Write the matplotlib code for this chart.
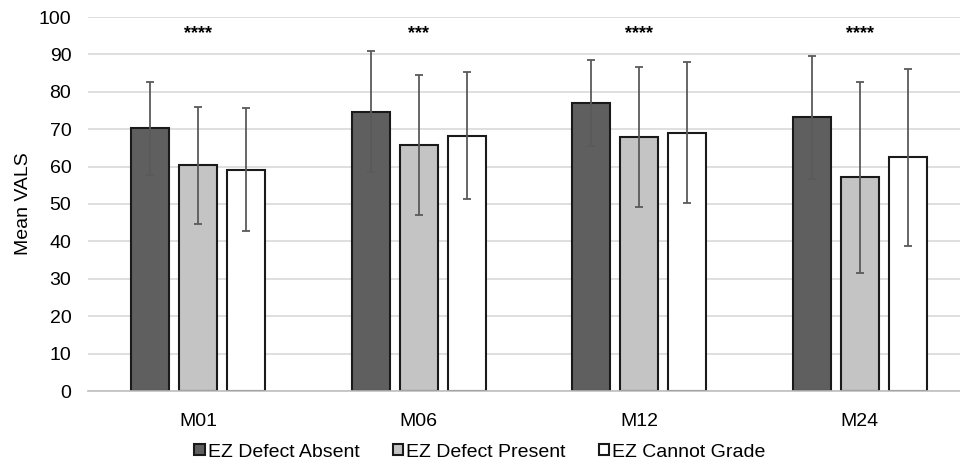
import matplotlib
matplotlib.use("Agg")
import matplotlib.pyplot as plt
import numpy as np

plt.rcParams['font.family'] = ['Liberation Sans', 'DejaVu Sans']

categories = ["M01", "M06", "M12", "M24"]
series = ["EZ Defect Absent", "EZ Defect Present", "EZ Cannot Grade"]
absent = [70.2, 74.7, 77.0, 73.2]
present = [60.3, 65.7, 67.8, 57.1]
cannot = [59.2, 68.3, 69.1, 62.5]
absent_sd = [12.5, 16.2, 11.5, 16.5]
present_sd = [15.6, 18.7, 18.7, 25.6]
cannot_sd = [16.4, 17.0, 18.8, 23.7]
stars = ["****", "***", "****", "****"]
star_y = 95.5

colors = ["#5f5f5f", "#c4c4c4", "#ffffff"]

fig = plt.figure(figsize=(9.6, 4.65), dpi=100)
ax = fig.add_axes([88/960, 74/465, 872/960, 374/465])

x = np.arange(len(categories))
offs = [-0.218, 0, 0.218]
w = 0.173
for vals, sds, off, c, lab in zip([absent, present, cannot], [absent_sd, present_sd, cannot_sd], offs, colors, series):
    ax.bar(x + off, vals, width=w, color=c, edgecolor="#1a1a1a", linewidth=1.5, label=lab, zorder=2)
    ax.errorbar(x + off, vals, yerr=sds, fmt="none", ecolor="#5a5a5a", elinewidth=1.3, capsize=3, capthick=1.3, zorder=3)

for xi, s in zip(x, stars):
    ax.text(xi, star_y, s, ha="center", va="center", fontsize=13, fontweight="bold")

ax.set_ylim(0, 100)
ax.set_xlim(-0.5, 3.455)
ax.set_yticks(range(0, 101, 10))
ax.set_xticks(x)
ax.set_xticklabels(categories)
ax.tick_params(axis="both", length=0, labelsize=14, colors="#000000")
ax.tick_params(axis="x", pad=16)
ax.tick_params(axis="y", pad=12)
ax.yaxis.grid(True, color="#d9d9d9", linewidth=1.2, zorder=0)
ax.set_axisbelow(True)
for s in ["top", "right", "left"]:
    ax.spines[s].set_visible(False)
ax.spines["bottom"].set_color("#bfbfbf")
ax.spines["bottom"].set_linewidth(1.2)
ax.spines["bottom"].set_zorder(4)
ax.set_ylabel("Mean VALS", fontsize=14)
ax.yaxis.set_label_coords(-56/872, 0.5)

leg = fig.legend(loc="center", bbox_to_anchor=(0.5, 1 - 452/465), ncol=3, frameon=False,
                 fontsize=14, handlelength=0.55, handleheight=0.55, handletextpad=0.15, columnspacing=1.7)

fig.savefig("out.png", dpi=100)
